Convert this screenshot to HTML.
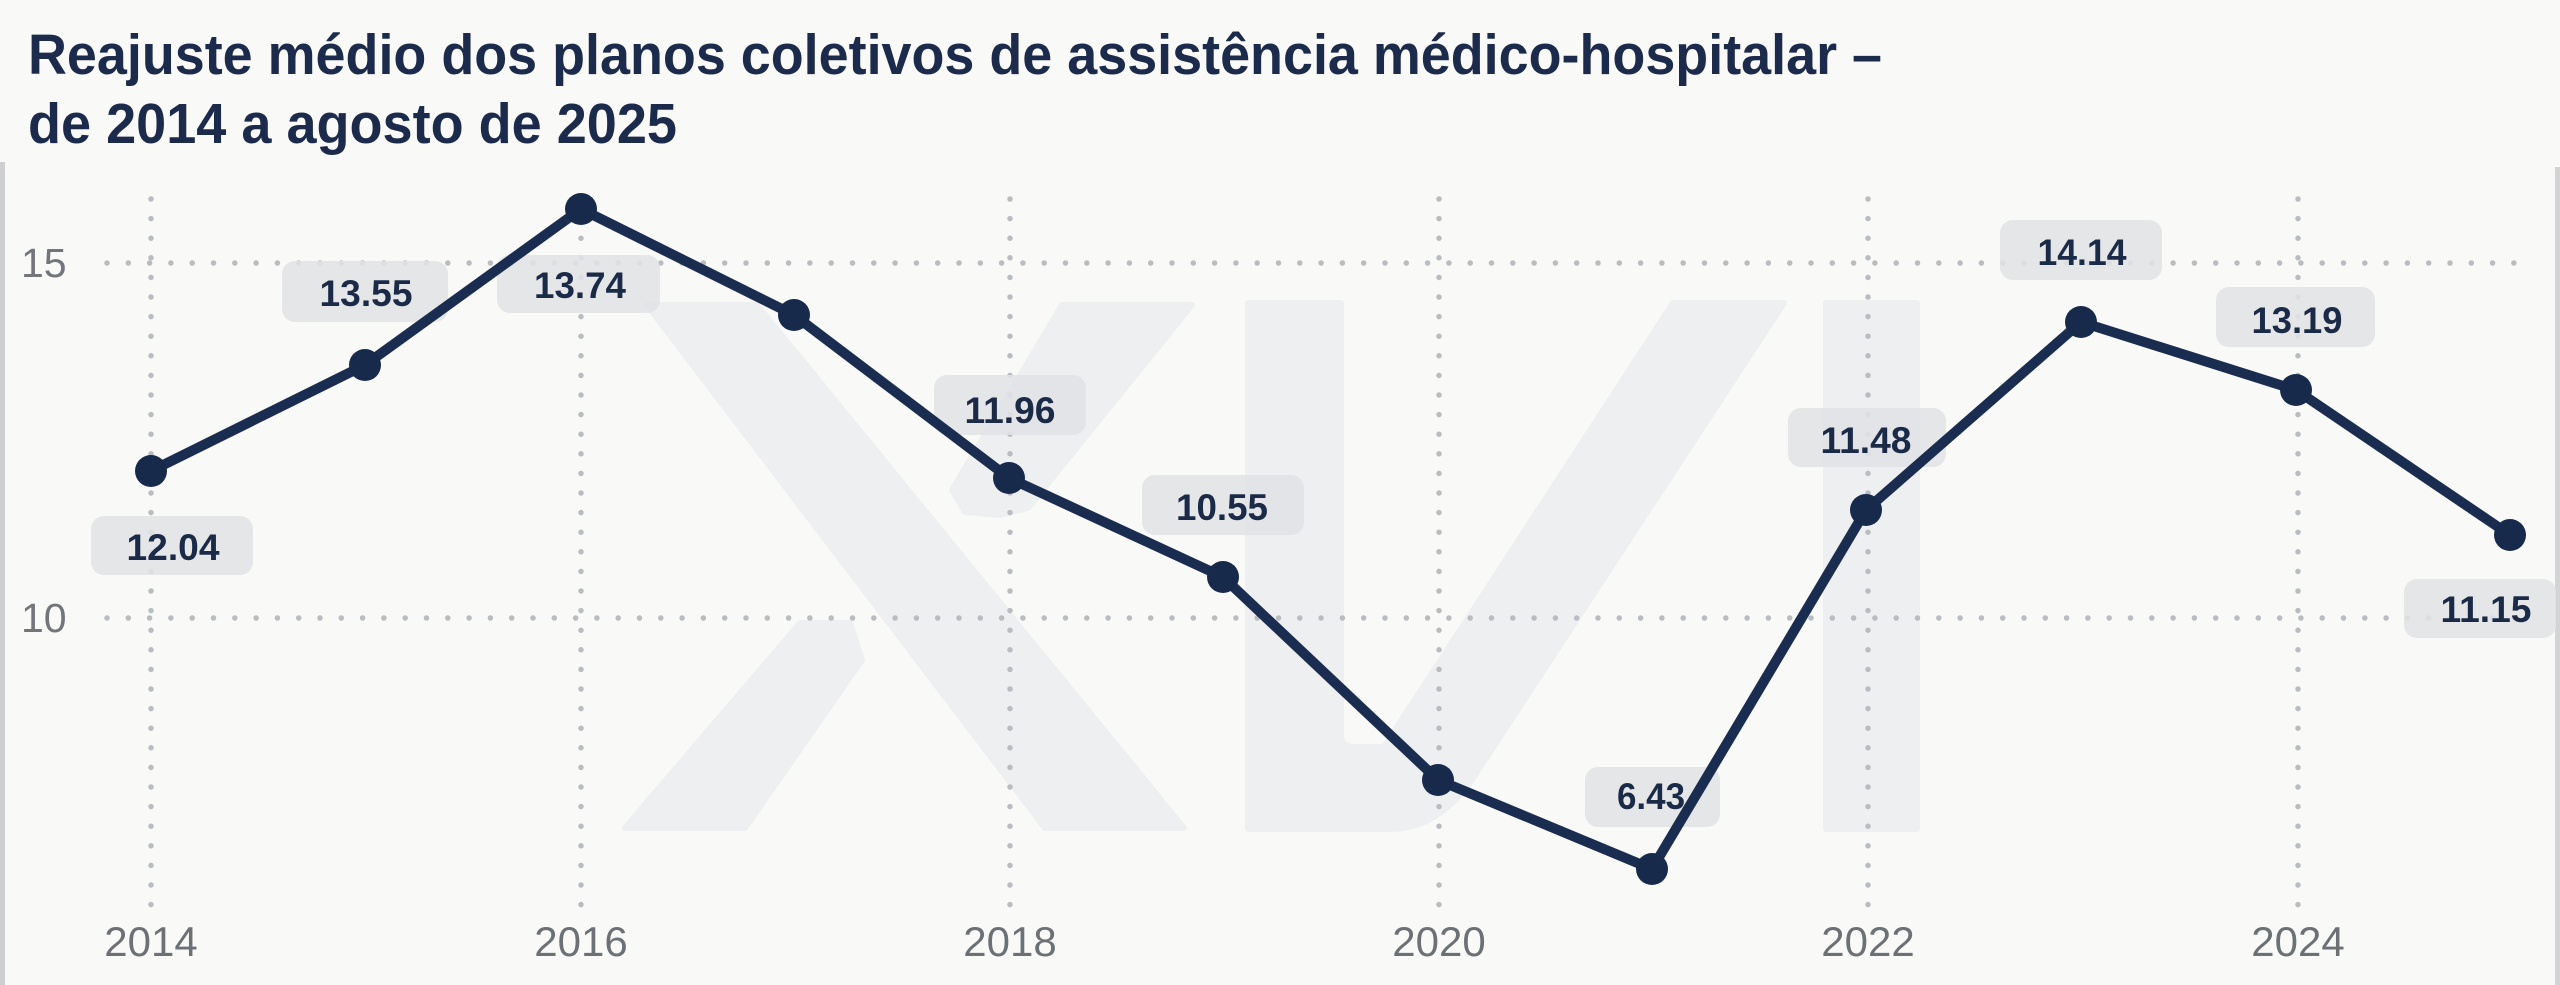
<!DOCTYPE html>
<html>
<head>
<meta charset="utf-8">
<style>
  html, body { margin: 0; padding: 0; background: #f9f9f7; }
  body { width: 2560px; height: 985px; overflow: hidden; }
  svg { display: block; }
  .title { font-family: "Liberation Sans", sans-serif; font-weight: bold; font-size: 57px; fill: #1c2b4b; }
  .ytick { font-family: "Liberation Sans", sans-serif; font-size: 41px; fill: #72767b; }
  .xtick { font-family: "Liberation Sans", sans-serif; font-size: 42px; fill: #6c7176; text-anchor: middle; }
  .val { font-family: "Liberation Sans", sans-serif; font-weight: bold; font-size: 37px; fill: #1b2a47; text-anchor: middle; }
  .box { fill: #e1e2e6; opacity: 0.88; }
  .wm { fill: #eeeff1; stroke: #eeeff1; stroke-width: 6; stroke-linejoin: round; }
  .hg { stroke: #b9bdc2; stroke-width: 5.5; stroke-linecap: round; stroke-dasharray: 0 21.3; fill: none; }
  .vg { stroke: #b9bdc2; stroke-width: 5.5; stroke-linecap: round; stroke-dasharray: 0 19.6; fill: none; }
</style>
</head>
<body>
<svg width="2560" height="985" viewBox="0 0 2560 985" xmlns="http://www.w3.org/2000/svg">
  <rect x="0" y="0" width="2560" height="985" fill="#f9f9f7"/>

  <!-- frame lines -->
  <rect x="0" y="162" width="5" height="823" fill="#cdcfd1"/>
  <rect x="2555" y="167" width="5" height="818" fill="#d3d4d6"/>

  <!-- Title -->
  <text class="title" x="28" y="74" textLength="1854" lengthAdjust="spacingAndGlyphs">Reajuste médio dos planos coletivos de assistência médico-hospitalar –</text>
  <text class="title" x="28" y="143" textLength="649" lengthAdjust="spacingAndGlyphs">de 2014 a agosto de 2025</text>

  <!-- Watermark -->
  <polygon class="wm" points="647,305 757,305 1184,828 1045,828"/>
  <polygon class="wm" points="1062,305 1192,305 1028,508 1000,515 965,512 952,490"/>
  <polygon class="wm" points="800,623 850,623 862,660 745,828 625,828"/>
  <path class="wm" d="M1248,303 L1341,303 L1341,735 Q1341,747 1355,747 L1384,747 L1673,303 L1784,303 L1475,775 Q1440,829 1390,829 L1248,829 Z"/>
  <rect class="wm" x="1826" y="303" width="91" height="526"/>

  <!-- Grid -->
  <line class="hg" x1="107" y1="263" x2="2532" y2="263"/>
  <line class="hg" x1="107" y1="618" x2="2532" y2="618"/>
  <line class="vg" x1="151" y1="199" x2="151" y2="905"/>
  <line class="vg" x1="581" y1="199" x2="581" y2="905"/>
  <line class="vg" x1="1010" y1="199" x2="1010" y2="905"/>
  <line class="vg" x1="1439" y1="199" x2="1439" y2="905"/>
  <line class="vg" x1="1868" y1="199" x2="1868" y2="905"/>
  <line class="vg" x1="2298" y1="199" x2="2298" y2="905"/>

  <!-- Y tick labels -->
  <text class="ytick" x="21" y="277">15</text>
  <text class="ytick" x="21" y="632">10</text>

  <!-- X tick labels -->
  <text class="xtick" x="151" y="956">2014</text>
  <text class="xtick" x="581" y="956">2016</text>
  <text class="xtick" x="1010" y="956">2018</text>
  <text class="xtick" x="1439" y="956">2020</text>
  <text class="xtick" x="1868" y="956">2022</text>
  <text class="xtick" x="2298" y="956">2024</text>

  <!-- Label boxes -->
  <rect class="box" x="91" y="516" width="162" height="59" rx="13"/>
  <rect class="box" x="282" y="261" width="166" height="61" rx="13"/>
  <rect class="box" x="497" y="255" width="163" height="58" rx="13"/>
  <rect class="box" x="934" y="375" width="152" height="60" rx="13"/>
  <rect class="box" x="1142" y="475" width="162" height="60" rx="13"/>
  <rect class="box" x="1585" y="767" width="135" height="60" rx="13"/>
  <rect class="box" x="1788" y="408" width="158" height="59" rx="13"/>
  <rect class="box" x="2000" y="220" width="162" height="60" rx="13"/>
  <rect class="box" x="2216" y="287" width="159" height="60" rx="13"/>
  <rect class="box" x="2404" y="579" width="152" height="59" rx="13"/>

  <!-- Label text -->
  <text class="val" x="173" y="560" textLength="93" lengthAdjust="spacingAndGlyphs">12.04</text>
  <text class="val" x="366" y="306" textLength="93" lengthAdjust="spacingAndGlyphs">13.55</text>
  <text class="val" x="580" y="298" textLength="92" lengthAdjust="spacingAndGlyphs">13.74</text>
  <text class="val" x="1010" y="423" textLength="91" lengthAdjust="spacingAndGlyphs">11.96</text>
  <text class="val" x="1222" y="520" textLength="92" lengthAdjust="spacingAndGlyphs">10.55</text>
  <text class="val" x="1651" y="809" textLength="68" lengthAdjust="spacingAndGlyphs">6.43</text>
  <text class="val" x="1866" y="453" textLength="91" lengthAdjust="spacingAndGlyphs">11.48</text>
  <text class="val" x="2082" y="265" textLength="89" lengthAdjust="spacingAndGlyphs">14.14</text>
  <text class="val" x="2297" y="333" textLength="91" lengthAdjust="spacingAndGlyphs">13.19</text>
  <text class="val" x="2486" y="622" textLength="91" lengthAdjust="spacingAndGlyphs">11.15</text>

  <!-- Series line -->
  <polyline fill="none" stroke="#1a2d50" stroke-width="10" stroke-linejoin="round" stroke-linecap="round"
    points="151,471 365,365 581,209 794,315 1009,478 1223,577 1438,780 1652,869 1866,510 2081,322 2296,390 2510,535"/>

  <!-- Markers -->
  <g fill="#182a4c">
    <circle cx="151" cy="471" r="16"/>
    <circle cx="365" cy="365" r="16"/>
    <circle cx="581" cy="209" r="16"/>
    <circle cx="794" cy="315" r="16"/>
    <circle cx="1009" cy="478" r="16"/>
    <circle cx="1223" cy="577" r="16"/>
    <circle cx="1438" cy="780" r="16"/>
    <circle cx="1652" cy="869" r="16"/>
    <circle cx="1866" cy="510" r="16"/>
    <circle cx="2081" cy="322" r="16"/>
    <circle cx="2296" cy="390" r="16"/>
    <circle cx="2510" cy="535" r="16"/>
  </g>
</svg>
</body>
</html>
